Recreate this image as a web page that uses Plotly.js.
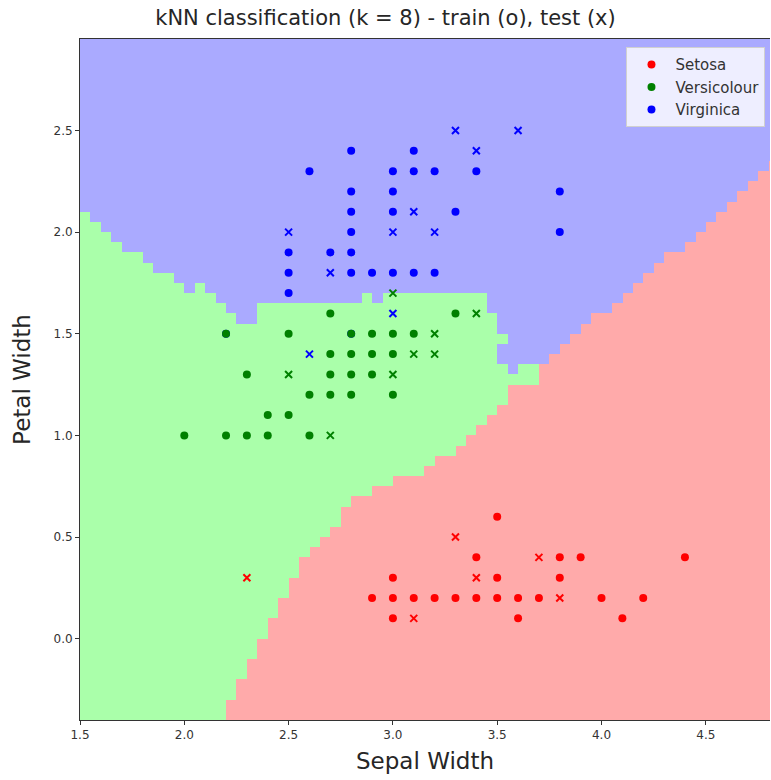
<!DOCTYPE html>
<html>
<head>
<meta charset="utf-8">
<script src="https://cdn.plot.ly/plotly-3.0.1.min.js"></script>
<style>
html,body{margin:0;padding:0;background:#fff;overflow:hidden;}
#chart{width:771px;height:780px;}
</style>
</head>
<body>
<div id="chart"></div>
<script>
// ---- Decision-mesh: one value per 0.05-wide sepal-width column starting at 1.5 ----
const meshStep = 0.05;
const meshXMin = 1.5;
const meshYMin = -0.4;
const meshCols = 67;
const meshRows = 67;
// top of the red (Setosa) region in each column (petal width)
const redTop = [
  -0.4,-0.4,-0.4,-0.4,-0.4,-0.4,-0.4,-0.4,-0.4,-0.4,
  -0.4,-0.4,-0.4,-0.4,-0.30,-0.20,-0.10,0.00,0.10,0.20,
  0.30,0.40,0.45,0.50,0.55,0.65,0.70,0.70,0.75,0.75,
  0.80,0.80,0.80,0.85,0.90,0.90,0.95,1.00,1.05,1.10,
  1.15,1.25,1.25,1.25,1.35,1.40,1.45,1.50,1.55,1.60,
  1.60,1.65,1.70,1.75,1.80,1.85,1.90,1.90,1.95,2.00,
  2.05,2.10,2.15,2.20,2.25,2.30,2.35
];
// top of the green (Versicolour) region in each column; null = no green band
const greenTop = [
  2.10,2.05,2.00,1.95,1.90,1.90,1.85,1.80,1.80,1.75,
  1.70,1.75,1.70,1.65,1.60,1.55,1.55,1.65,1.65,1.65,
  1.65,1.65,1.65,1.65,1.65,1.65,1.65,1.70,1.65,1.70,
  1.70,1.70,1.70,1.70,1.70,1.70,1.70,1.70,1.70,1.60,
  1.50,1.30,1.35,1.35,null,null,null,null,null,null,
  null,null,null,null,null,null,null,null,null,null,
  null,null,null,null,null,null,null
];
// small blue pockets inside the green band: column left edge, bottom, top
const blueIslandX = [3.50];
const blueIslandY0 = [1.35];
const blueIslandY1 = [1.45];

// ---- Points ----
const setosaTrainX = [3.5,3.4,3.8,3.9,4.4,3.0,3.5,3.8,2.9,3.0,3.1,3.2,3.3,3.4,3.5,3.6,3.7,4.0,4.2,3.0,3.6,4.1];
const setosaTrainY = [0.6,0.4,0.4,0.4,0.4,0.3,0.3,0.3,0.2,0.2,0.2,0.2,0.2,0.2,0.2,0.2,0.2,0.2,0.2,0.1,0.1,0.1];
const setosaTestX = [3.3,3.7,3.4,3.8,3.1,2.3];
const setosaTestY = [0.5,0.4,0.3,0.2,0.1,0.3];

const versiTrainX = [2.7,3.3,2.2,2.5,2.8,2.9,3.0,3.1,2.7,2.8,2.9,3.0,2.3,2.7,2.8,2.9,2.6,2.7,2.8,3.0,2.4,2.5,2.0,2.2,2.3,2.4,2.6];
const versiTrainY = [1.6,1.6,1.5,1.5,1.5,1.5,1.5,1.5,1.4,1.4,1.4,1.4,1.3,1.3,1.3,1.3,1.2,1.2,1.2,1.2,1.1,1.1,1.0,1.0,1.0,1.0,1.0];
const versiTestX = [3.0,3.4,3.2,3.1,3.2,2.5,3.0,2.7];
const versiTestY = [1.7,1.6,1.5,1.4,1.4,1.3,1.3,1.0];

const virgTrainX = [2.8,3.1,2.6,3.0,3.1,3.2,3.4,2.8,3.0,3.8,2.8,3.0,3.3,2.8,3.8,2.5,2.7,2.8,2.5,2.8,2.9,3.0,3.1,3.2,2.5,2.2,2.8];
const virgTrainY = [2.4,2.4,2.3,2.3,2.3,2.3,2.3,2.2,2.2,2.2,2.1,2.1,2.1,2.0,2.0,1.9,1.9,1.9,1.8,1.8,1.8,1.8,1.8,1.8,1.7,1.5,1.5];
const virgTestX = [3.3,3.6,3.4,3.1,2.5,3.0,3.2,2.7,3.0,2.6];
const virgTestY = [2.5,2.5,2.4,2.1,2.0,2.0,2.0,1.8,1.6,1.4];

const classNames = ['Setosa','Versicolour','Virginica'];
const bgColors = ['#FFAAAA','#AAFFAA','#AAAAFF'];
const ptColors = ['#FF0000','#008000','#0000FF'];

const xTickVals = [1.5,2.0,2.5,3.0,3.5,4.0,4.5];
const xTickText = ['1.5','2.0','2.5','3.0','3.5','4.0','4.5'];
const yTickVals = [0.0,0.5,1.0,1.5,2.0,2.5];
const yTickText = ['0.0','0.5','1.0','1.5','2.0','2.5'];

// ---- build mesh ----
const xEdges = [], yEdges = [];
for (let i = 0; i <= meshCols; i++) xEdges.push(+(meshXMin + i*meshStep).toFixed(3));
for (let j = 0; j <= meshRows; j++) yEdges.push(+(meshYMin + j*meshStep).toFixed(3));
const z = [];
for (let j = 0; j < meshRows; j++) {
  const yc = meshYMin + (j + 0.5)*meshStep;
  const row = [];
  for (let i = 0; i < meshCols; i++) {
    const xl = meshXMin + i*meshStep;
    let c;
    if (yc < redTop[i]) c = 0;
    else if (greenTop[i] !== null && yc < greenTop[i]) c = 1;
    else c = 2;
    for (let k = 0; k < blueIslandX.length; k++) {
      if (Math.abs(xl - blueIslandX[k]) < 1e-6 && yc > blueIslandY0[k] && yc < blueIslandY1[k]) c = 2;
    }
    row.push(c);
  }
  z.push(row);
}

const traces = [{
  type:'heatmap', x:xEdges, y:yEdges, z:z, zmin:0, zmax:2,
  colorscale:[[0,bgColors[0]],[0.5,bgColors[1]],[1,bgColors[2]]],
  showscale:false, hoverinfo:'skip', zsmooth:false
}];

function pts(x, y, ci, test, show) {
  return {
    type:'scatter', mode:'markers', x:x, y:y, name:classNames[ci],
    legendgroup:classNames[ci], showlegend:show, legendrank: ci+1,
    marker: test ? {symbol:'x-thin', size:7, color:ptColors[ci], line:{color:ptColors[ci], width:2}}
                 : {symbol:'circle', size:8, color:ptColors[ci], line:{width:0}},
    hoverinfo:'x+y'
  };
}
traces.push(pts(virgTrainX, virgTrainY, 2, false, true));
traces.push(pts(virgTestX, virgTestY, 2, true, false));
traces.push(pts(versiTrainX, versiTrainY, 1, false, true));
traces.push(pts(versiTestX, versiTestY, 1, true, false));
traces.push(pts(setosaTrainX, setosaTrainY, 0, false, true));
traces.push(pts(setosaTestX, setosaTestY, 0, true, false));

const layout = {
  width:771, height:780,
  margin:{l:80, r:1, t:39, b:60},
  paper_bgcolor:'#fff', plot_bgcolor:'#fff',
  font:{family:'DejaVu Sans', color:'#262626'},
  title:{text:'kNN classification (k = 8) - train (o), test (x)', x:0.5, xref:'container', y:0.977, yref:'container', yanchor:'middle',
         font:{family:'DejaVu Sans', size:21, color:'#262626'}},
  xaxis:{range:[1.5, 1.5 + 690/208.6], tickvals:xTickVals, ticktext:xTickText, ticks:'outside', ticklen:4, tickcolor:'#333',
         showline:true, linecolor:'#333', linewidth:1, mirror:true, showgrid:false, zeroline:false,
         tickfont:{size:12, color:'#333'},
         title:{text:'Sepal Width', font:{size:23, color:'#262626'}, standoff:11}},
  yaxis:{range:[-0.4, 2.95], tickvals:yTickVals, ticktext:yTickText, ticks:'outside', ticklen:4, tickcolor:'#333',
         showline:true, linecolor:'#333', linewidth:1, showgrid:false, zeroline:false,
         tickfont:{size:12, color:'#333'},
         title:{text:'Petal Width', font:{size:23, color:'#262626'}, standoff:16}},
  legend:{x:0.792, y:0.988, xanchor:'left', yanchor:'top', bgcolor:'rgba(255,255,255,0.8)', bordercolor:'#d0d0d0', borderwidth:1,
          font:{size:15, color:'#333'}, tracegroupgap:0, itemwidth:38},
  showlegend:true
};
Plotly.newPlot('chart', traces, layout, {displayModeBar:false, staticPlot:true});
</script>
</body>
</html>
